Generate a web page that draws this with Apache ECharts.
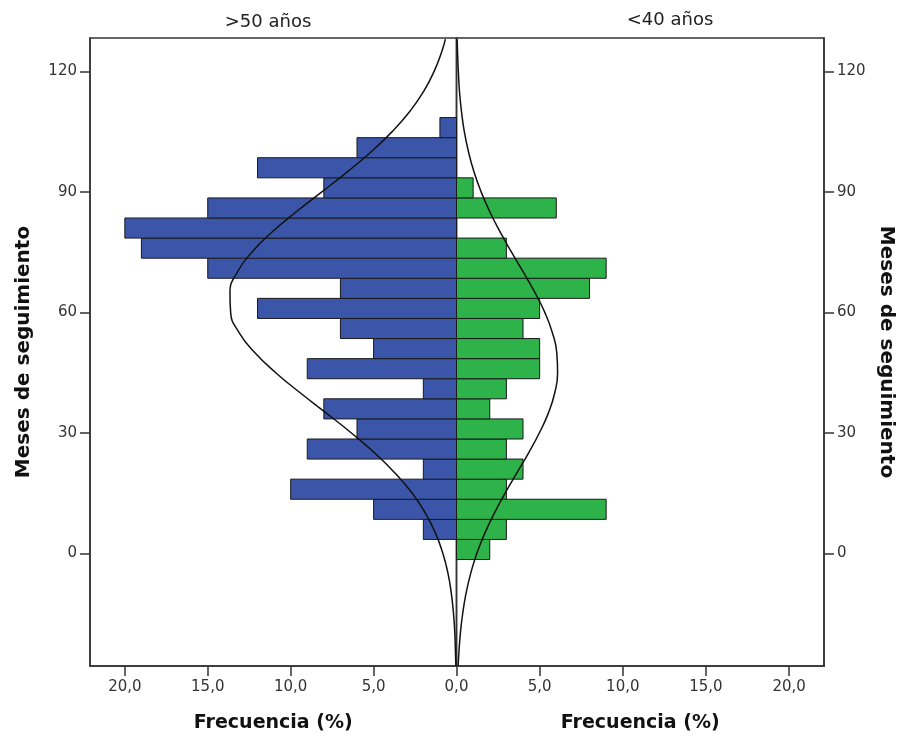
<!DOCTYPE html>
<html>
<head>
<meta charset="utf-8">
<script src="https://cdn.jsdelivr.net/npm/echarts@6/dist/echarts.min.js"></script>
<style>
  html, body { margin: 0; padding: 0; background: #fff; }
  #chart { width: 906px; height: 738px; }
</style>
</head>
<body>
<div id="chart"></div>
<script>
// bins of 5 months (centre values)
const binCenters = [1, 6, 11, 16, 21, 26, 31, 36, 41, 46, 51, 56, 61, 66, 71, 76, 81, 86, 91, 96, 101, 106];
const binWidth = 5;
// frecuencia (%) per bin
const oldFreq = [0, 2, 5, 10, 2, 9, 6, 8, 2, 9, 5, 7, 12, 7, 15, 19, 20, 15, 8, 12, 6, 1];   // >50 años
const youngFreq = [2, 3, 9, 3, 4, 3, 4, 2, 3, 5, 5, 4, 5, 8, 9, 3, 0, 6, 1, 0, 0, 0];       // <40 años

// normal curves
const curveMonths = [-28, -25, -20, -15, -10, -5, 0, 5, 10, 15, 20, 25, 30, 35, 40, 45, 50, 55, 60, 65, 70, 75, 80, 85, 90, 95, 100, 105, 110, 115, 120, 125, 128];
const oldCurve = [0.04, 0.06, 0.10, 0.18, 0.31, 0.51, 0.82, 1.26, 1.87, 2.67, 3.70, 4.93, 6.34, 7.87, 9.43, 10.9, 12.17, 13.11, 13.62, 13.66, 13.22, 12.34, 11.12, 9.68, 8.12, 6.58, 5.14, 3.88, 2.82, 1.98, 1.35, 0.88, 0.67];
const youngCurve = [0.10, 0.14, 0.23, 0.37, 0.57, 0.85, 1.22, 1.70, 2.27, 2.92, 3.62, 4.33, 4.98, 5.53, 5.91, 6.08, 6.03, 5.76, 5.31, 4.71, 4.02, 3.31, 2.63, 2.01, 1.48, 1.05, 0.72, 0.47, 0.30, 0.18, 0.11, 0.06, 0.04];

const xTicks = [0, 5, 10, 15, 20];
const xTicksRight = [5, 10, 15, 20];
const yTicks = [0, 30, 60, 90, 120];

const font = 'DejaVu Sans';
const frame = '#333';
const chart = echarts.init(document.getElementById('chart'), null, {renderer: 'canvas'});

function renderBar(color) {
  return function (params, api) {
    const month = api.value(0);
    const v = api.value(1);
    if (!v) return null;
    const a = api.coord([0, month - binWidth / 2]);
    const b = api.coord([v, month + binWidth / 2]);
    return {
      type: 'rect',
      shape: {
        x: Math.min(a[0], b[0]),
        y: Math.min(a[1], b[1]),
        width: Math.abs(b[0] - a[0]),
        height: Math.abs(b[1] - a[1])
      },
      style: {fill: color, stroke: '#1a1a1a', lineWidth: 1}
    };
  };
}

function xAxis(grid, labels, inverse) {
  return {
    gridIndex: grid,
    inverse: inverse,
    type: 'value',
    min: 0,
    max: 22.1,
    axisLine: {show: true, onZero: false, lineStyle: {color: frame, width: 1.5}},
    axisTick: {show: true, inside: false, length: 10, customValues: xTicks, lineStyle: {color: frame, width: 1.5}},
    axisLabel: {customValues: labels, margin: 14, color: '#333', fontSize: 15, fontFamily: font,
      formatter: v => v.toFixed(1).replace('.', ',')},
    splitLine: {show: false},
    name: 'Frecuencia (%)',
    nameLocation: 'middle',
    nameGap: 48,
    nameTextStyle: {fontSize: 19, fontWeight: 'bold', color: '#111', fontFamily: font}
  };
}

function yAxis(grid, pos, rotate, gap) {
  return {
    gridIndex: grid,
    position: pos,
    type: 'value',
    min: -28,
    max: 128.3,
    axisLine: {show: true, onZero: false, lineStyle: {color: frame, width: 1.5}},
    axisTick: {show: true, inside: false, length: 10, customValues: yTicks, lineStyle: {color: frame, width: 1.5}},
    axisLabel: {customValues: yTicks, margin: 13, color: '#333', fontSize: 15, fontFamily: font},
    splitLine: {show: false},
    name: 'Meses de seguimiento',
    nameLocation: 'middle',
    nameRotate: rotate,
    nameGap: gap,
    nameTextStyle: {fontSize: 20, fontWeight: 'bold', color: '#111', fontFamily: font}
  };
}

const option = {
  backgroundColor: '#fff',
  animation: false,
  grid: [
    {left: 90, top: 38, width: 366.5, height: 630, show: true, borderColor: frame, borderWidth: 1.5},
    {left: 456.5, top: 38, width: 367.5, height: 630, show: true, borderColor: frame, borderWidth: 1.5}
  ],
  xAxis: [xAxis(0, xTicks, true), xAxis(1, xTicksRight, false)],
  yAxis: [yAxis(0, 'left', 90, 56), yAxis(1, 'right', -90, 52)],
  graphic: [
    {type: 'text', x: 268, y: 22, style: {text: '>50 años', textAlign: 'center', textVerticalAlign: 'middle',
      font: '18px ' + font, fill: '#222'}},
    {type: 'text', x: 670, y: 20, style: {text: '<40 años', textAlign: 'center', textVerticalAlign: 'middle',
      font: '18px ' + font, fill: '#222'}}
  ],
  series: [
    {
      type: 'custom', xAxisIndex: 0, yAxisIndex: 0,
      renderItem: renderBar('#3b56a9'),
      data: binCenters.map((m, i) => [m, oldFreq[i]]),
      encode: {x: 1, y: 0}
    },
    {
      type: 'custom', xAxisIndex: 1, yAxisIndex: 1,
      renderItem: renderBar('#2db34a'),
      data: binCenters.map((m, i) => [m, youngFreq[i]]),
      encode: {x: 1, y: 0}
    },
    {
      type: 'line', xAxisIndex: 0, yAxisIndex: 0,
      data: curveMonths.map((m, i) => [oldCurve[i], m]),
      smooth: 0.5, symbol: 'none',
      lineStyle: {color: '#111', width: 1.5}
    },
    {
      type: 'line', xAxisIndex: 1, yAxisIndex: 1,
      data: curveMonths.map((m, i) => [youngCurve[i], m]),
      smooth: 0.5, symbol: 'none',
      lineStyle: {color: '#111', width: 1.5}
    }
  ]
};

chart.setOption(option);
</script>
</body>
</html>
